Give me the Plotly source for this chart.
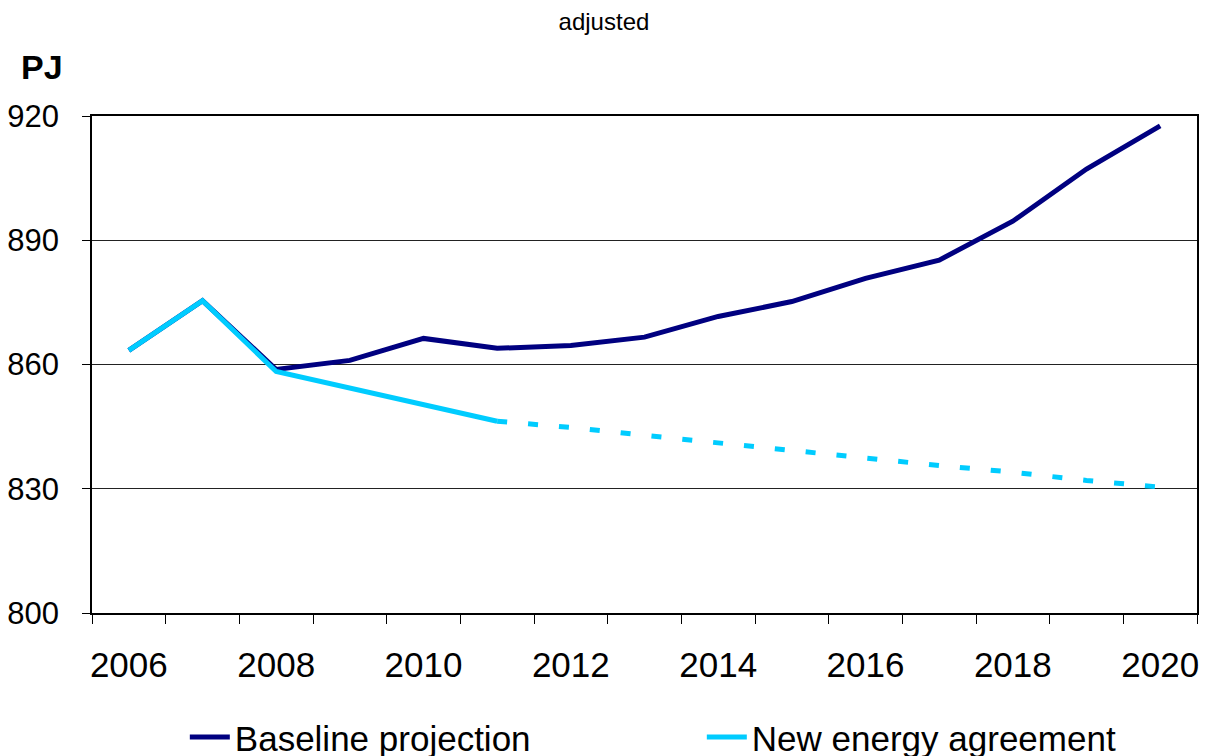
import plotly.graph_objects as go

years = list(range(2006, 2021))
baseline = [863.4, 875.4, 858.8, 861.0, 866.3, 863.9, 864.6, 866.6, 871.6, 875.2, 880.8, 885.2, 894.6, 907.2, 917.6]
new_energy_solid_years = [2006, 2007, 2008, 2009, 2010, 2011]
new_energy_solid = [863.4, 875.4, 858.3, 854.3, 850.4, 846.3]
new_energy_dash_years = [2011, 2012, 2013, 2014, 2015, 2016, 2017, 2018, 2019, 2020]
new_energy_dash = [846.3, 844.8, 842.9, 841.0, 839.2, 837.2, 835.6, 834.0, 832.0, 830.4]
y_ticks = [800, 830, 860, 890, 920]
x_label_years = [2006, 2008, 2010, 2012, 2014, 2016, 2018, 2020]

FONT = "Liberation Sans, Arial, sans-serif"
NAVY = "#000080"
CYAN = "#00CCFF"

fig = go.Figure()
fig.add_trace(go.Scatter(x=years, y=baseline, mode="lines", name="Baseline projection",
                         line=dict(color=NAVY, width=5)))
fig.add_trace(go.Scatter(x=new_energy_solid_years, y=new_energy_solid, mode="lines",
                         name="New energy agreement", line=dict(color=CYAN, width=5)))
fig.add_trace(go.Scatter(x=new_energy_dash_years, y=new_energy_dash, mode="lines",
                         name="New energy agreement", showlegend=False,
                         line=dict(color=CYAN, width=5, dash="10px,21px")))

fig.update_layout(
    width=1222, height=756,
    margin=dict(l=84, r=33, t=108, b=151, autoexpand=False),
    paper_bgcolor="white", plot_bgcolor="white",
    font=dict(family=FONT, color="black"),
    title=dict(text="adjusted", x=0.4877, xref="container", y=0.982, yref="container",
               xanchor="center", yanchor="middle", font=dict(size=24, family=FONT)),
    showlegend=True,
    legend=dict(orientation="h", x=0.084, xref="paper", y=-0.25, yanchor="middle",
                font=dict(size=35, family=FONT), entrywidth=462, itemwidth=40,
                bgcolor="rgba(0,0,0,0)", tracegroupgap=0),
    xaxis=dict(range=[2005.5, 2020.5], tickmode="array", tickvals=x_label_years,
               ticktext=[str(y) for y in x_label_years], ticks="", showgrid=False,
               showline=True, linecolor="black", linewidth=1.5, mirror=True,
               tickfont=dict(size=35, family=FONT), ticklabelstandoff=20,
               minor=dict(tickmode="linear", tick0=2005.5, dtick=1, ticks="outside",
                          ticklen=9, tickcolor="black", tickwidth=1, showgrid=False),
               zeroline=False),
    yaxis=dict(range=[800, 920], tickmode="array", tickvals=y_ticks, ticks="outside",
               ticklen=8, tickcolor="black", showgrid=True, gridcolor="#222222", gridwidth=1,
               showline=True, linecolor="black", linewidth=1.5, mirror=True,
               tickfont=dict(size=31, family=FONT), ticklabelstandoff=17, zeroline=False),
    annotations=[dict(text="<b>PJ</b>", x=(42 - 92) / 1105, y=(613 - 67) / 497,
                      xref="paper", yref="paper", xanchor="center", yanchor="middle",
                      showarrow=False, font=dict(size=34, family=FONT))],
)

fig.write_html("out.html")
